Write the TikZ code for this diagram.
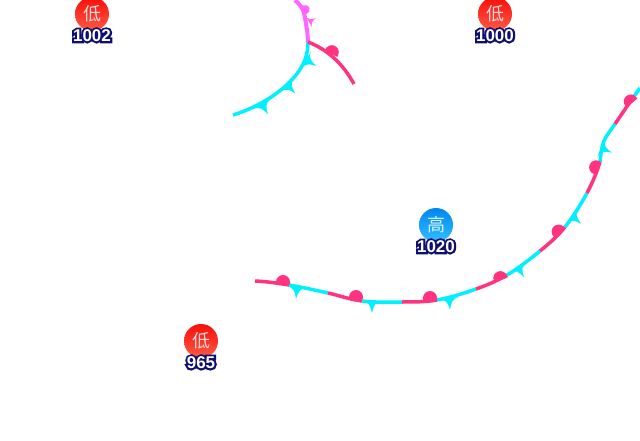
\documentclass[tikz,border=0pt]{standalone}
\usepackage{fontspec}
\usetikzlibrary{positioning}
\setmainfont{Liberation Sans}
\newfontfamily\cjk{Noto Sans CJK SC}
\newfontfamily\haloface[FakeBold=24]{Liberation Sans Bold}
\definecolor{coldcol}{RGB}{0,240,255}
\definecolor{warmcol}{RGB}{255,51,128}
\definecolor{occcol}{RGB}{255,102,255}
\definecolor{labelcol}{RGB}{15,15,110}
\definecolor{lowtop}{RGB}{245,15,10}
\definecolor{lowbot}{RGB}{255,90,70}
\definecolor{hightop}{RGB}{0,135,240}
\definecolor{highbot}{RGB}{50,190,255}
\newcommand{\pressnum}[1]{\leavevmode\rlap{\textcolor{labelcol}{\haloface #1}}\textcolor{white}{\bfseries #1}}
\begin{document}
\begin{tikzpicture}[
    x=1pt, y=-1pt,
    lowbadge/.style={circle, minimum size=34pt, inner sep=0pt, text=white!85!red, top color=lowtop, bottom color=lowbot, font=\cjk\fontsize{18}{18}\selectfont},
    highbadge/.style={circle, minimum size=34pt, inner sep=0pt, text=white!85!cyan, top color=hightop, bottom color=highbot, font=\cjk\fontsize{18}{18}\selectfont},
    presslabel/.style={inner sep=0pt, font=\fontsize{17}{17}\selectfont},
    coldline/.style={draw=coldcol, line width=3.5pt},
    warmline/.style={draw=warmcol, line width=3.5pt},
    occline/.style={draw=occcol, line width=4pt},
    tooth/.pic={\fill[pic actions] (-10,0) .. controls (-3,1) and (-1.5,5) .. (0,12) .. controls (1.5,5) and (3,1) .. (10,0) -- cycle;},
    bump/.pic={\fill[pic actions] (-7,0) -- (-7,2) arc[start angle=180, end angle=0, radius=7] -- (7,0) -- cycle;}
]
\useasboundingbox (0,0) rectangle (640,440);

% Upper front
\draw[occline] plot[smooth] coordinates {(295,0) (303,10) (307,30) (308,42)};
\draw[coldline] (308,42) .. controls (308,55) and (304,65) .. (296,75) .. controls (284,90) and (262,106) .. (233,115);
\draw[warmline] (308,42) .. controls (326,49) and (342,62) .. (354,84);
\path (304,10) pic[occcol, rotate=110, scale=0.65] {bump};
\path (309,22) pic[occcol, rotate=120, scale=0.65] {tooth};
\path (306,60) pic[coldcol, rotate=60] {tooth};
\path (287,85) pic[coldcol, rotate=45] {tooth};
\path (262,104) pic[coldcol, rotate=30] {tooth};
\path (331,54) pic[warmcol, rotate=156] {bump};

% Main front
\draw[warmline] (255,281) .. controls (266,281.5) and (276.8,283) .. (289,285);
\draw[coldline] (289,285) .. controls (301.2,287) and (315.8,290.3) .. (328,293);
\draw[warmline] (328,293) .. controls (340.2,295.7) and (349.7,299.5) .. (362,301);
\draw[coldline] (362,301) .. controls (374.3,302.5) and (389.5,302.2) .. (402,302);
\draw[warmline] (402,302) .. controls (414.5,301.8) and (424.7,302.2) .. (437,300);
\draw[coldline] (437,300) .. controls (449.3,297.8) and (464.3,293.2) .. (476,289);
\draw[warmline] (476,289) .. controls (487.7,284.8) and (496.3,281.3) .. (507,275);
\draw[coldline] (507,275) .. controls (517.7,268.7) and (530.3,259) .. (540,251);
\draw[warmline] (540,251) .. controls (549.7,243) and (557.2,236.7) .. (565,227);
\draw[coldline] (565,227) .. controls (572.8,217.3) and (581.2,203.8) .. (587,193);
\draw[warmline] (587,193) .. controls (592.8,182.2) and (597.5,170.3) .. (600,162);
\draw[coldline] (600,162) .. controls (601,155) and (601,148) .. (604,141) .. controls (606,136) and (610.3,130.8) .. (615,124);
\draw[warmline] (615,124) .. controls (619.7,117.2) and (625.8,108) .. (630,102);
\draw[coldline] (630,102) .. controls (634.2,96) and (637,92) .. (640,88);
\path (297,287) pic[coldcol, rotate=-5] {tooth};
\path (372,301) pic[coldcol] {tooth};
\path (449,298) pic[coldcol, rotate=5] {tooth};
\path (518,267) pic[coldcol, rotate=30] {tooth};
\path (572,216) pic[coldcol, rotate=50] {tooth};
\path (601,148) pic[coldcol, rotate=67] {tooth};
\path (283,284) pic[warmcol, rotate=180] {bump};
\path (356,299) pic[warmcol, rotate=180] {bump};
\path (430,300) pic[warmcol, rotate=180] {bump};
\path (501,280) pic[warmcol, rotate=200] {bump};
\path (560,233) pic[warmcol, rotate=225] {bump};
\path (598,168) pic[warmcol, rotate=250] {bump};
\path (632,103) pic[warmcol, rotate=220] {bump};

% Pressure centres
\node[lowbadge] (lowa) at (92,14) {低};
\node[presslabel, below=-2pt of lowa] (numa) {\pressnum{1002}};
\node[lowbadge] (lowb) at (495,14) {低};
\node[presslabel, below=-2pt of lowb] (numb) {\pressnum{1000}};
\node[highbadge] (higha) at (436,225) {高};
\node[presslabel, below=-2pt of higha] (numc) {\pressnum{1020}};
\node[lowbadge] (lowc) at (201,341) {低};
\node[presslabel, below=-2pt of lowc] (numd) {\pressnum{965}};
\end{tikzpicture}
\end{document}
